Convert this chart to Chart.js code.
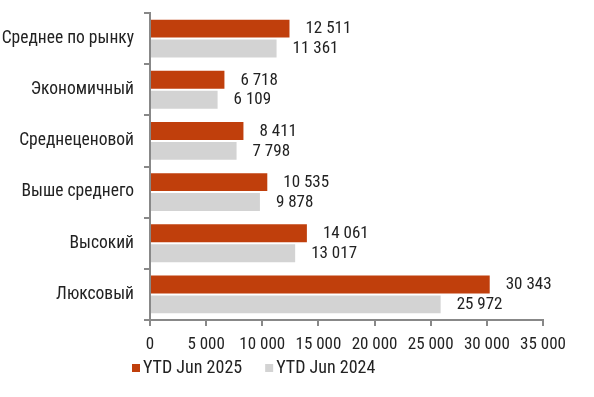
<!DOCTYPE html>
<html>
<head>
<meta charset="utf-8">
<script src="https://cdn.jsdelivr.net/npm/chart.js@4/dist/chart.umd.min.js"></script>
<style>
  html, body { margin: 0; padding: 0; background: #fff; }
  #wrap { width: 594px; height: 397px; }
</style>
</head>
<body>
<div id="wrap"><canvas id="barchart" width="594" height="397"></canvas></div>
<script>
var categories = ["Среднее по рынку", "Экономичный", "Среднеценовой", "Выше среднего", "Высокий", "Люксовый"];
var seriesNames = ["YTD Jun 2025", "YTD Jun 2024"];
var values2025 = [12511, 6718, 8411, 10535, 14061, 30343];
var values2024 = [11361, 6109, 7798, 9878, 13017, 25972];
var xTicks = [0, 5000, 10000, 15000, 20000, 25000, 30000, 35000];

var FONT = "'Roboto Condensed', 'DejaVu Sans Condensed', 'Liberation Sans Narrow', Roboto, sans-serif";
var colors = ["#C03F0C", "#D3D3D3"];

function fmt(v) {
    return String(v).replace(/\B(?=(\d{3})+(?!\d))/g, ' ');
}

// value labels to the right of each bar
var valueLabels = {
    id: 'valueLabels',
    afterDatasetsDraw: function (chart) {
        var ctx = chart.ctx;
        ctx.save();
        ctx.font = "condensed 17px " + FONT;
        ctx.fillStyle = "#222";
        ctx.textAlign = "left";
        ctx.textBaseline = "middle";
        chart.data.datasets.forEach(function (ds, i) {
            chart.getDatasetMeta(i).data.forEach(function (bar, j) {
                ctx.fillText(fmt(ds.data[j]), bar.x + 15, bar.y + 0.5);
            });
        });
        ctx.restore();
    }
};

// legend under the axis
var bottomLegend = {
    id: 'bottomLegend',
    afterDraw: function (chart) {
        var ctx = chart.ctx;
        var y = chart.chartArea.bottom + 48;
        var x = 132;
        ctx.save();
        ctx.font = "condensed 18px " + FONT;
        ctx.textBaseline = "middle";
        ctx.textAlign = "left";
        chart.data.datasets.forEach(function (ds) {
            ctx.fillStyle = ds.backgroundColor;
            ctx.fillRect(x, y - 4, 8, 8);
            ctx.fillStyle = "#222";
            ctx.fillText(ds.label, x + 11, y);
            x += 11 + ctx.measureText(ds.label).width + 23;
        });
        ctx.restore();
    }
};

var ctx = document.getElementById("barchart").getContext('2d');
var chart = new Chart(ctx, {
    type: 'bar',
    data: {
        labels: categories,
        datasets: [{
            label: seriesNames[0],
            data: values2025,
            backgroundColor: colors[0],
            borderColor: '#fff',
            borderWidth: 1,
            categoryPercentage: 0.78,
            barPercentage: 1
        }, {
            label: seriesNames[1],
            data: values2024,
            backgroundColor: colors[1],
            borderColor: '#fff',
            borderWidth: 1,
            categoryPercentage: 0.78,
            barPercentage: 1
        }]
    },
    options: {
        indexAxis: 'y',
        responsive: false,
        animation: false,
        layout: {
            padding: { top: 13, right: 51, bottom: 0, left: 0 }
        },
        plugins: {
            legend: { display: false },
            tooltip: { enabled: false }
        },
        scales: {
            x: {
                min: 0,
                max: 35000,
                afterBuildTicks: function (scale) {
                    scale.ticks = xTicks.map(function (v) { return { value: v }; });
                },
                afterFit: function (scale) { scale.height = 77; },
                grid: { drawOnChartArea: false, drawTicks: true, tickLength: 6, color: '#888', lineWidth: 2 },
                border: { display: true, color: '#888', width: 2 },
                ticks: {
                    color: '#222',
                    font: { family: FONT, size: 17, style: 'condensed' },
                    padding: 9,
                    maxRotation: 0,
                    callback: function (v) { return fmt(v); }
                }
            },
            y: {
                offset: true,
                afterFit: function (scale) {
                    scale.width = 150;
                    scale.paddingTop = 0;
                    scale.paddingBottom = 0;
                },
                grid: { drawOnChartArea: false, drawTicks: true, tickLength: 6, offset: true, color: '#888', lineWidth: 2 },
                border: { display: true, color: '#888', width: 2 },
                ticks: {
                    color: '#222',
                    font: { family: FONT, size: 17.5, style: 'condensed' },
                    padding: 10
                }
            }
        }
    },
    plugins: [valueLabels, bottomLegend]
});
</script>
</body>
</html>
